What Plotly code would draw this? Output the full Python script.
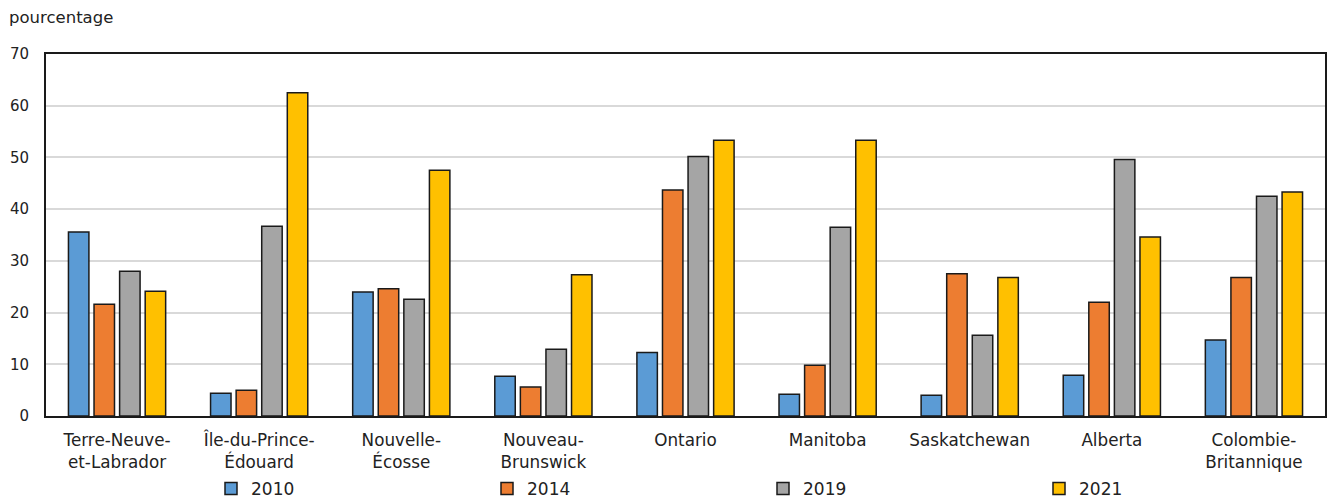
import plotly.graph_objects as go

categories = ["Terre-Neuve-<br>et-Labrador", "Île-du-Prince-<br>Édouard", "Nouvelle-<br>Écosse",
              "Nouveau-<br>Brunswick", "Ontario", "Manitoba", "Saskatchewan", "Alberta",
              "Colombie-<br>Britannique"]
series_names = ["2010", "2014", "2019", "2021"]
v2010 = [35.6, 4.4, 24.0, 7.7, 12.3, 4.2, 4.0, 7.9, 14.7]
v2014 = [21.6, 5.0, 24.6, 5.6, 43.7, 9.8, 27.5, 22.0, 26.8]
v2019 = [28.0, 36.7, 22.6, 12.9, 50.2, 36.5, 15.6, 49.6, 42.5]
v2021 = [24.1, 62.5, 47.5, 27.3, 53.3, 53.3, 26.8, 34.6, 43.3]
colors = ["#5b9bd5", "#ed7d31", "#a5a5a5", "#ffc000"]
y_ticks = [0, 10, 20, 30, 40, 50, 60, 70]

font_family = "Verdana, DejaVu Sans, sans-serif"
W, ML, MR, MT, MB, H = 1330, 46, 5, 54, 84, 500
plot_w = W - ML - MR
plot_h = H - MT - MB

fig = go.Figure()
legend_ids = ["legend", "legend2", "legend3", "legend4"]
for name, vals, col, lg in zip(series_names, [v2010, v2014, v2019, v2021], colors, legend_ids):
    fig.add_trace(go.Bar(x=categories, y=vals, name=name, marker_color=col,
                         marker_line=dict(color="#1a1a1a", width=1.5), legend=lg))

# legend entries evenly spread along the bottom
legend_px = [211, 487, 763, 1039]
legend_layout = {}
for lg, px in zip(legend_ids, legend_px):
    legend_layout[lg] = dict(orientation="h", x=(px - ML) / plot_w, xanchor="left",
                             y=-(489 - (H - MB)) / plot_h, yanchor="middle",
                             itemwidth=30, font=dict(size=17, color="#222222"),
                             bgcolor="rgba(0,0,0,0)")

fig.update_layout(
    width=W, height=H,
    margin=dict(l=ML, r=MR, t=MT, b=MB, autoexpand=False),
    plot_bgcolor="white", paper_bgcolor="white",
    barmode="group", bargap=0.28, bargroupgap=0.2,
    font=dict(family=font_family, size=15, color="#222222"),
    showlegend=True,
    annotations=[dict(text="pourcentage", xref="paper", yref="paper", x=-0.0305, y=1.0,
                      xanchor="left", yanchor="middle", yshift=37, showarrow=False,
                      font=dict(size=16.5, color="#222222"))],
    **legend_layout,
)
fig.update_yaxes(range=[0, 70], tickvals=y_ticks, showgrid=True, gridcolor="#d9d9d9",
                 gridwidth=1.5, showline=True, linecolor="#1a1a1a", linewidth=2,
                 mirror=True, ticks="", zeroline=False, tickfont=dict(size=15),
                 ticklabelstandoff=12)
fig.update_xaxes(showline=True, linecolor="#1a1a1a", linewidth=2, mirror=True,
                 ticks="", tickfont=dict(size=16.8), ticklabelstandoff=8)

fig.write_html("out.html")
